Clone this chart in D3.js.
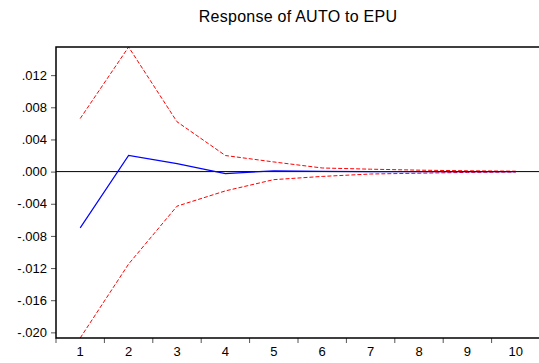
<!DOCTYPE html>
<html>
<head>
<meta charset="utf-8">
<script src="https://cdn.jsdelivr.net/npm/d3@7"></script>
<style>
  body { margin: 0; background: #fff; }
  svg { display: block; font-family: "Liberation Sans", Arial, sans-serif; }
  .tick text { font-size: 13px; fill: #000; }
  .tick line { stroke: #555; }
</style>
</head>
<body>
<div id="chart"></div>
<script>
const periods = [1, 2, 3, 4, 5, 6, 7, 8, 9, 10];
const response = [-0.0070, 0.0020, 0.0010, -0.00025, 0.0001, 0.00002, 0.0, 0.0, 0.0, 0.0];
const upperBand = [0.0066, 0.0155, 0.0062, 0.0020, 0.0012, 0.00045, 0.0003, 0.00018, 0.0001, 0.00005];
const lowerBand = [-0.0207, -0.0115, -0.0043, -0.0024, -0.0010, -0.0006, -0.0003, -0.0002, -0.0001, -0.00005];
const yTicks = [0.012, 0.008, 0.004, 0.000, -0.004, -0.008, -0.012, -0.016, -0.020];
const title = 'Response of AUTO to EPU';

const W = 539, H = 363;
const margin = { top: 47, right: -1, bottom: 25, left: 56 };

const svg = d3.select('#chart')
  .append('svg')
  .attr('width', W)
  .attr('height', H);

const x = d3.scaleBand()
  .domain(periods)
  .range([margin.left, W - margin.right]);

const y = d3.scaleLinear()
  .domain([-0.0207, 0.0155])
  .range([H - margin.bottom, margin.top]);

const cx = d => x(d) + x.bandwidth() / 2;
const fmt = v => {
  const s = d3.format('.3f')(Math.abs(v)).replace(/^0/, '');
  return (v < -1e-9 ? '-' : '') + s;
};

svg.append('defs').append('clipPath')
  .attr('id', 'plot-clip')
  .append('rect')
  .attr('x', margin.left)
  .attr('y', margin.top - 1)
  .attr('width', W - margin.left - margin.right)
  .attr('height', H - margin.top - margin.bottom + 1);

// title
svg.append('text')
  .attr('x', (margin.left + W - margin.right) / 2)
  .attr('y', 22)
  .attr('text-anchor', 'middle')
  .style('font-size', '16px')
  .style('letter-spacing', '0.25px')
  .text(title);

// y axis
svg.append('g')
  .attr('transform', `translate(${margin.left},0)`)
  .call(d3.axisLeft(y).tickValues(yTicks).tickFormat(fmt).tickSize(5).tickSizeOuter(0).tickPadding(4))
  .call(g => g.select('.domain').remove());

// x axis labels
svg.append('g')
  .attr('transform', `translate(0,${H - margin.bottom})`)
  .call(d3.axisBottom(x).tickSize(0).tickPadding(9))
  .call(g => g.select('.domain').remove());

// x tick marks at band edges
svg.append('g')
  .selectAll('line')
  .data(periods)
  .join('line')
  .attr('x1', d => x(d))
  .attr('x2', d => x(d))
  .attr('y1', H - margin.bottom)
  .attr('y2', H - margin.bottom + 5)
  .attr('stroke', '#555');

// zero line
svg.append('line')
  .attr('x1', margin.left)
  .attr('x2', W)
  .attr('y1', y(0))
  .attr('y2', y(0))
  .attr('stroke', '#000')
  .attr('stroke-width', 1);

const line = d3.line()
  .x((d, i) => cx(periods[i]))
  .y(d => y(d));

const plot = svg.append('g').attr('clip-path', 'url(#plot-clip)');

plot.append('path')
  .datum(upperBand)
  .attr('d', line)
  .attr('fill', 'none')
  .attr('stroke', '#ff0000')
  .attr('stroke-width', 1)
  .attr('stroke-dasharray', '4,2');

plot.append('path')
  .datum(lowerBand)
  .attr('d', line)
  .attr('fill', 'none')
  .attr('stroke', '#ff0000')
  .attr('stroke-width', 1)
  .attr('stroke-dasharray', '4,2');

plot.append('path')
  .datum(response)
  .attr('d', line)
  .attr('fill', 'none')
  .attr('stroke', '#0000ff')
  .attr('stroke-width', 1.2);

// frame: top, left, bottom
svg.append('path')
  .attr('d', `M${W},${margin.top}H${margin.left}V${H - margin.bottom}H${W}`)
  .attr('fill', 'none')
  .attr('stroke', '#000')
  .attr('stroke-width', 1.5);
</script>
</body>
</html>
